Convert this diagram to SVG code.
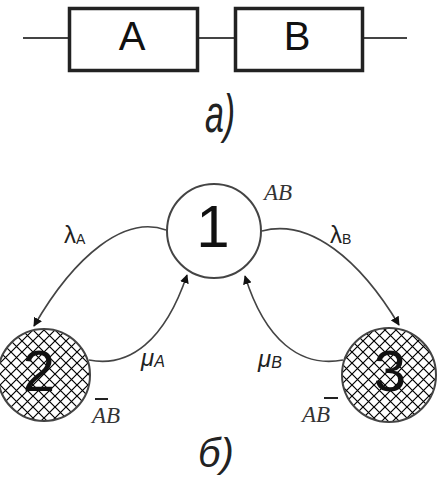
<svg xmlns="http://www.w3.org/2000/svg" width="437" height="477" viewBox="0 0 437 477">
<style>
.box{fill:#fff;stroke:#222;stroke-width:3.5}
.wire{stroke:#444;stroke-width:2;fill:none}
.big{font-family:"Liberation Sans",Arial,sans-serif;fill:#111}
.cap{font-family:"Liberation Sans",Arial,sans-serif;font-style:italic;fill:#222}
.node{stroke:#444;stroke-width:2}
.arc{fill:none;stroke:#444;stroke-width:1.6}
.lbl{font-family:"Liberation Sans",Arial,sans-serif;font-size:24px;fill:#222}
.st{font-family:"Liberation Serif","Times New Roman",serif;font-style:italic;font-size:23px;fill:#333}
.ov{stroke:#222;stroke-width:2}
</style>
<defs>
<pattern id="hatch" patternUnits="userSpaceOnUse" width="11" height="11">
<path d="M0,0 L11,11 M11,0 L0,11" stroke="#000" stroke-width="1.2"/>
</pattern>
<marker id="ah" viewBox="0 0 10 10" refX="9" refY="5" markerWidth="9" markerHeight="9" markerUnits="userSpaceOnUse" orient="auto">
<path d="M0,0 L10,5 L0,10 Z" fill="#111"/>
</marker>
</defs>
<g id="series">
<line class="wire" x1="23" y1="38" x2="69" y2="38"/>
<line class="wire" x1="198" y1="38" x2="235" y2="38"/>
<line class="wire" x1="363" y1="38" x2="407" y2="38"/>
<g id="boxA"><rect class="box" x="69.5" y="8.5" width="128" height="62"/><text class="big" x="132" y="50" font-size="40" text-anchor="middle">A</text></g>
<g id="boxB"><rect class="box" x="235.5" y="8.5" width="127" height="62"/><text class="big" x="297" y="50" font-size="40" text-anchor="middle">B</text></g>
<text class="cap" font-size="40" text-anchor="middle" transform="translate(220,132) scale(0.85,1.35)">a)</text>
</g>
<g id="connectors">
<path id="lamA" class="arc" d="M166,230 C125,215 75,255 34,326" marker-end="url(#ah)"/>
<path id="muA" class="arc" d="M89,360 C130,368 165,340 187,275" marker-end="url(#ah)"/>
<path id="lamB" class="arc" d="M262,231 C310,218 360,260 399,325" marker-end="url(#ah)"/>
<path id="muB" class="arc" d="M343,360 C300,368 265,340 245,276" marker-end="url(#ah)"/>
<text class="lbl" x="64" y="243">λ<tspan font-size="14" dy="1">A</tspan></text>
<text class="lbl" x="330" y="243">λ<tspan font-size="14" dy="1">B</tspan></text>
<text class="lbl" x="141" y="366" font-style="italic">μ<tspan font-size="16" dy="1">A</tspan></text>
<text class="lbl" x="258" y="367" font-style="italic">μ<tspan font-size="16" dy="1">B</tspan></text>
</g>
<g id="n1">
<circle class="node" cx="214" cy="231" r="47" fill="#fff"/>
<text class="big" x="213" y="247" font-size="60" text-anchor="middle">1</text>
<text class="st" x="264" y="200">AB</text>
</g>
<g id="n2">
<circle class="node" cx="44" cy="375" r="46" fill="url(#hatch)"/>
<text class="big" x="39" y="391" font-size="58" text-anchor="middle">2</text>
<text class="st" x="92" y="423">AB</text>
<line class="ov" x1="95" y1="399" x2="108" y2="399"/>
</g>
<g id="n3">
<circle class="node" cx="389" cy="375" r="47" fill="url(#hatch)"/>
<text class="big" x="390" y="391" font-size="58" text-anchor="middle">3</text>
<text class="st" x="302" y="422">AB</text>
<line class="ov" x1="324" y1="398" x2="338" y2="398"/>
</g>
<text class="cap" x="216" y="467" font-size="40" text-anchor="middle">б)</text>
</svg>
